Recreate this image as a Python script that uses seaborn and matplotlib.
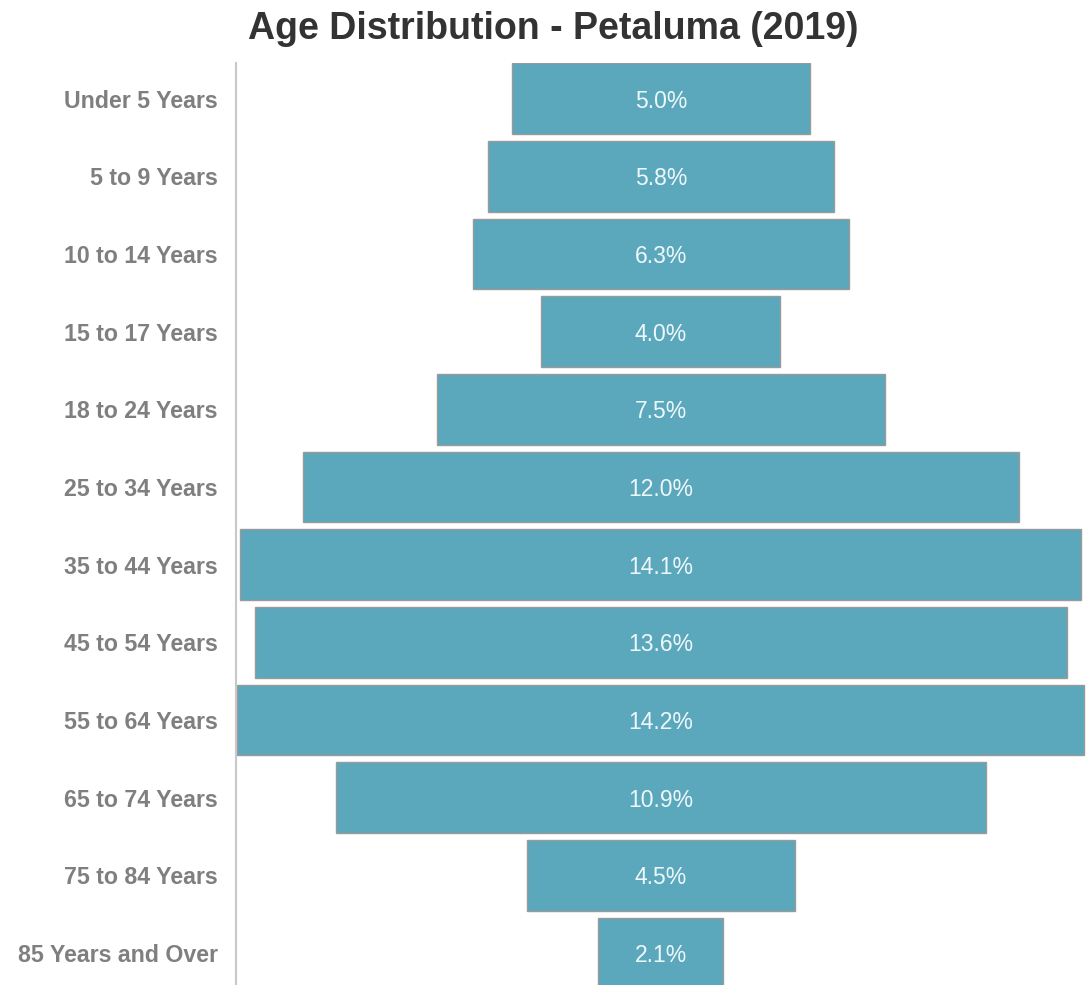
import pandas as pd
import matplotlib
matplotlib.use('Agg')
import matplotlib.pyplot as plt
import seaborn as sns

# 年龄段与占比(%)
age_groups = ['Under 5 Years', '5 to 9 Years', '10 to 14 Years', '15 to 17 Years',
              '18 to 24 Years', '25 to 34 Years', '35 to 44 Years', '45 to 54 Years',
              '55 to 64 Years', '65 to 74 Years', '75 to 84 Years', '85 Years and Over']
share = [5.0, 5.8, 6.3, 4.0, 7.5, 12.0, 14.1, 13.6, 14.2, 10.9, 4.5, 2.1]

df = pd.DataFrame({'age': age_groups, 'share': share})

sns.set_theme(style='white')
plt.rcParams['font.family'] = ['Liberation Sans', 'DejaVu Sans']

fig = plt.figure(figsize=(10.91, 9.85), dpi=100)
ax = fig.add_axes([236 / 1091, 0, 1 - 236 / 1091, 1 - 63 / 985])

sns.barplot(data=df, x='share', y='age', orient='h', color='#5ba8bc',
            saturation=1, width=0.91, edgecolor='#9a9a9a', linewidth=1, ax=ax)

# 把条形居中，做成漏斗样式
for p in ax.patches:
    p.set_x(-p.get_width() / 2)

for i, v in enumerate(df['share']):
    ax.text(0, i, f'{v:.1f}%', ha='center', va='center_baseline', color='#eef8fb', fontsize=16.5)

ax.set_xlim(-7.12, 7.21)
ax.set_ylim(11.41, -0.46)
ax.set_xlabel('')
ax.set_ylabel('')
ax.set_xticks([])
ax.tick_params(axis='y', length=0, pad=13, labelsize=16.7, labelcolor='#7f7f7f')
for t in ax.get_yticklabels():
    t.set_fontweight('bold')

for s in ['top', 'right', 'bottom']:
    ax.spines[s].set_visible(False)
ax.spines['left'].set_color('#c8c8c8')
ax.spines['left'].set_linewidth(1.5)

fig.text(553 / 1091, 1 - 29 / 985, 'Age Distribution - Petaluma (2019)', ha='center', va='center',
         fontsize=27, fontweight='bold', color='#333333')

fig.savefig('out.png', dpi=100)
